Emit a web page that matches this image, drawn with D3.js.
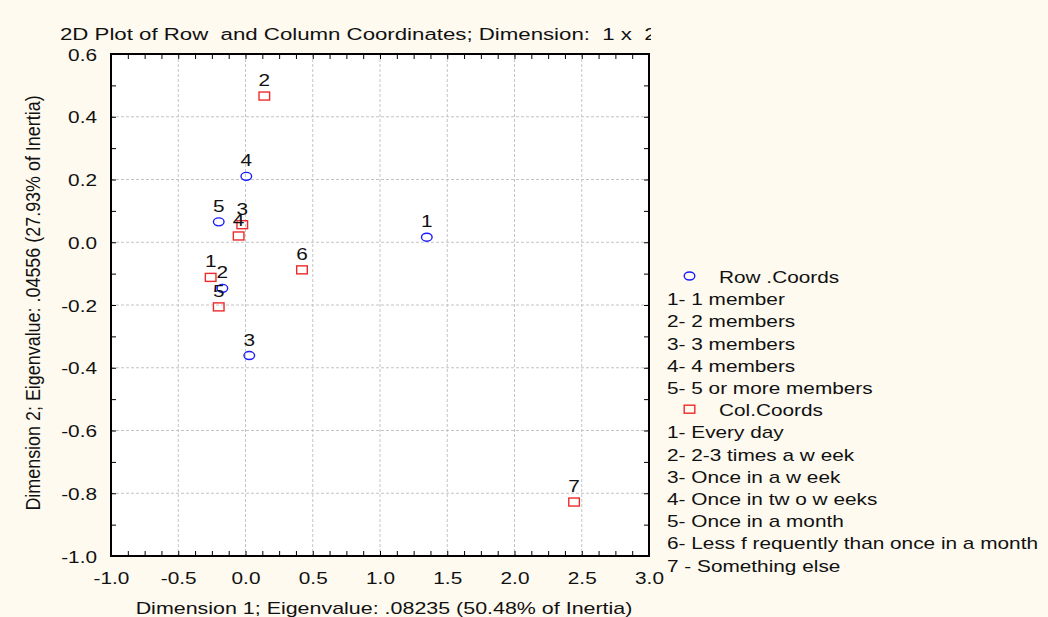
<html>
<script src="https://cdn.jsdelivr.net/npm/d3@7"></script>
<style>
body { margin: 0; background: #fefaef; }
text { font-family: "Liberation Sans", Arial, sans-serif; font-size: 16px; fill: #111; white-space: pre; }
.grid line { stroke: #c4c4c4; stroke-dasharray: 3,2; }
</style>
<body>
<svg width=1048 height=617></svg>
<script>
var title = "2D Plot of Row  and Column Coordinates; Dimension:  1 x  2";
var xTitle = "Dimension 1; Eigenvalue: .08235 (50.48% of Inertia)";
var yTitle = "Dimension 2; Eigenvalue: .04556 (27.93% of Inertia)";

var xTicks = [-1, -0.5, 0, 0.5, 1, 1.5, 2, 2.5, 3];
var xTickLabels = ["-1.0", "-0.5", "0.0", "0.5", "1.0", "1.5", "2.0", "2.5", "3.0"];
var yTicks = [-1, -0.8, -0.6, -0.4, -0.2, 0, 0.2, 0.4, 0.6];
var yTickLabels = ["-1.0", "-0.8", "-0.6", "-0.4", "-0.2", "0.0", "0.2", "0.4", "0.6"];

// row coordinates (household size)
var rowLabels = ["1", "2", "3", "4", "5"];
var rowX = [1.348, -0.172, 0.028, 0.006, -0.199];
var rowY = [0.016, -0.147, -0.361, 0.210, 0.065];
var rowNames = ["1- 1 member", "2- 2 members", "3- 3 members", "4- 4 members", "5- 5 or more members"];

// column coordinates (frequency)
var colLabels = ["1", "2", "3", "4", "5", "6", "7"];
var colX = [-0.259, 0.140, -0.024, -0.051, -0.199, 0.420, 2.443];
var colY = [-0.112, 0.466, 0.056, 0.020, -0.206, -0.088, -0.828];
var colNames = ["1- Every day", "2- 2-3 times a w eek", "3- Once in a w eek", "4- Once in tw o w eeks",
  "5- Once in a month", "6- Less f requently than once in a month", "7 - Something else"];

var SX = 1.3;   // the original text is stretched sideways
var L = 111, R = 649, T = 54, B = 556;

var x = d3.scaleLinear().domain([-1, 3]).range([L, R]);
var y = d3.scaleLinear().domain([-1, 0.6]).range([B, T]);

var svg = d3.select("svg");

function put(sel, px, py, sx, sy) {
  sel.attr("x", 0).attr("y", 0)
     .attr("transform", "translate(" + px + "," + py + ") scale(" + (sx || SX) + "," + (sy || 1) + ")");
}

// title is cut off at the plot's right edge
svg.append("defs").append("clipPath").attr("id", "tclip")
  .append("rect").attr("x", 0).attr("y", 0).attr("width", 651).attr("height", 50);
svg.append("g").attr("clip-path", "url(#tclip)")
  .append("text").text(title).call(put, 60, 40, 1.39);

// plot area
svg.append("rect").attr("x", L).attr("y", T).attr("width", R - L).attr("height", B - T).attr("fill", "#fff");

svg.append("g").attr("class", "grid")
  .selectAll("line").data(xTicks.slice(1, -1)).enter().append("line")
  .attr("x1", function(d) { return x(d); }).attr("x2", function(d) { return x(d); })
  .attr("y1", T).attr("y2", B);
svg.append("g").attr("class", "grid")
  .selectAll("line").data(yTicks.slice(1, -1)).enter().append("line")
  .attr("y1", function(d) { return y(d); }).attr("y2", function(d) { return y(d); })
  .attr("x1", L).attr("x2", R);

// inward minor ticks on all four sides
var xMinor = d3.range(0, 33).map(function(i) { return -1 + i * 0.125; });
var yMinor = d3.range(0, 17).map(function(i) { return -1 + i * 0.1; });
function ticks(g) { g.select(".domain").remove(); g.selectAll("line").attr("stroke", "#000"); }
svg.append("g").attr("transform", "translate(0," + B + ")")
  .call(d3.axisBottom(x).tickValues(xMinor).tickSize(-5).tickFormat("")).call(ticks);
svg.append("g").attr("transform", "translate(0," + T + ")")
  .call(d3.axisTop(x).tickValues(xMinor).tickSize(-5).tickFormat("")).call(ticks);
svg.append("g").attr("transform", "translate(" + L + ",0)")
  .call(d3.axisLeft(y).tickValues(yMinor).tickSize(-5).tickFormat("")).call(ticks);
svg.append("g").attr("transform", "translate(" + R + ",0)")
  .call(d3.axisRight(y).tickValues(yMinor).tickSize(-5).tickFormat("")).call(ticks);

svg.append("rect").attr("x", L).attr("y", T).attr("width", R - L).attr("height", B - T)
  .attr("fill", "none").attr("stroke", "#000").attr("stroke-width", 2);

// tick labels
var xa = svg.append("g").attr("transform", "translate(0," + B + ")")
  .call(d3.axisBottom(x).tickValues(xTicks).tickSize(0)
    .tickFormat(function(d, i) { return xTickLabels[i]; }));
xa.select(".domain").remove();
xa.selectAll("text").attr("fill", null).attr("dy", null)
  .each(function() { d3.select(this).call(put, 0, 28); });
xa.attr("font-family", null).attr("font-size", null);

var ya = svg.append("g").attr("transform", "translate(" + L + ",0)")
  .call(d3.axisLeft(y).tickValues(yTicks).tickSize(0)
    .tickFormat(function(d, i) { return yTickLabels[i]; }));
ya.select(".domain").remove();
ya.selectAll("text").attr("fill", null).attr("dy", null)
  .each(function() { d3.select(this).call(put, -14, 6); });
ya.attr("font-family", null).attr("font-size", null);

// axis titles
svg.append("text").attr("text-anchor", "middle").text(xTitle).call(put, 384, 614, 1.34);
svg.append("text").attr("text-anchor", "middle").text(yTitle)
  .attr("x", 0).attr("y", 0)
  .attr("transform", "translate(40,303) rotate(-90) scale(1.12,1.3)");

// points
var rows = rowLabels.map(function(d, i) { return { lab: d, x: rowX[i], y: rowY[i] }; });
var cols = colLabels.map(function(d, i) { return { lab: d, x: colX[i], y: colY[i] }; });

svg.append("g").selectAll("ellipse").data(rows).enter().append("ellipse")
  .attr("cx", function(d) { return x(d.x); }).attr("cy", function(d) { return y(d.y); })
  .attr("rx", 5.3).attr("ry", 4).attr("fill", "none").attr("stroke", "#1a1aff").attr("stroke-width", 1.4);
svg.append("g").selectAll("rect").data(cols).enter().append("rect")
  .attr("x", function(d) { return x(d.x) - 5.3; }).attr("y", function(d) { return y(d.y) - 4; })
  .attr("width", 10.6).attr("height", 8).attr("fill", "none").attr("stroke", "#ee2a2a").attr("stroke-width", 1.4);

svg.append("g").selectAll("text").data(rows.concat(cols)).enter().append("text")
  .attr("text-anchor", "middle").text(function(d) { return d.lab; })
  .each(function(d) { d3.select(this).call(put, x(d.x), y(d.y) - 10); });

// legend
var lg = svg.append("g");
var items = [{ t: "Row .Coords", s: "c" }].concat(rowNames.map(function(t) { return { t: t }; }),
  [{ t: "Col.Coords", s: "r" }], colNames.map(function(t) { return { t: t }; }));
items.forEach(function(d, i) {
  var by = 283 + i * 22.2;
  if (d.s == "c") {
    lg.append("ellipse").attr("cx", 689.5).attr("cy", by - 7).attr("rx", 5.3).attr("ry", 4)
      .attr("fill", "none").attr("stroke", "#1a1aff").attr("stroke-width", 1.4);
  } else if (d.s == "r") {
    lg.append("rect").attr("x", 684.2).attr("y", by - 11).attr("width", 10.6).attr("height", 8)
      .attr("fill", "none").attr("stroke", "#ee2a2a").attr("stroke-width", 1.4);
  }
  lg.append("text").text(d.t).call(put, d.s ? 719 : 667, by);
});
</script>
</body>
</html>
